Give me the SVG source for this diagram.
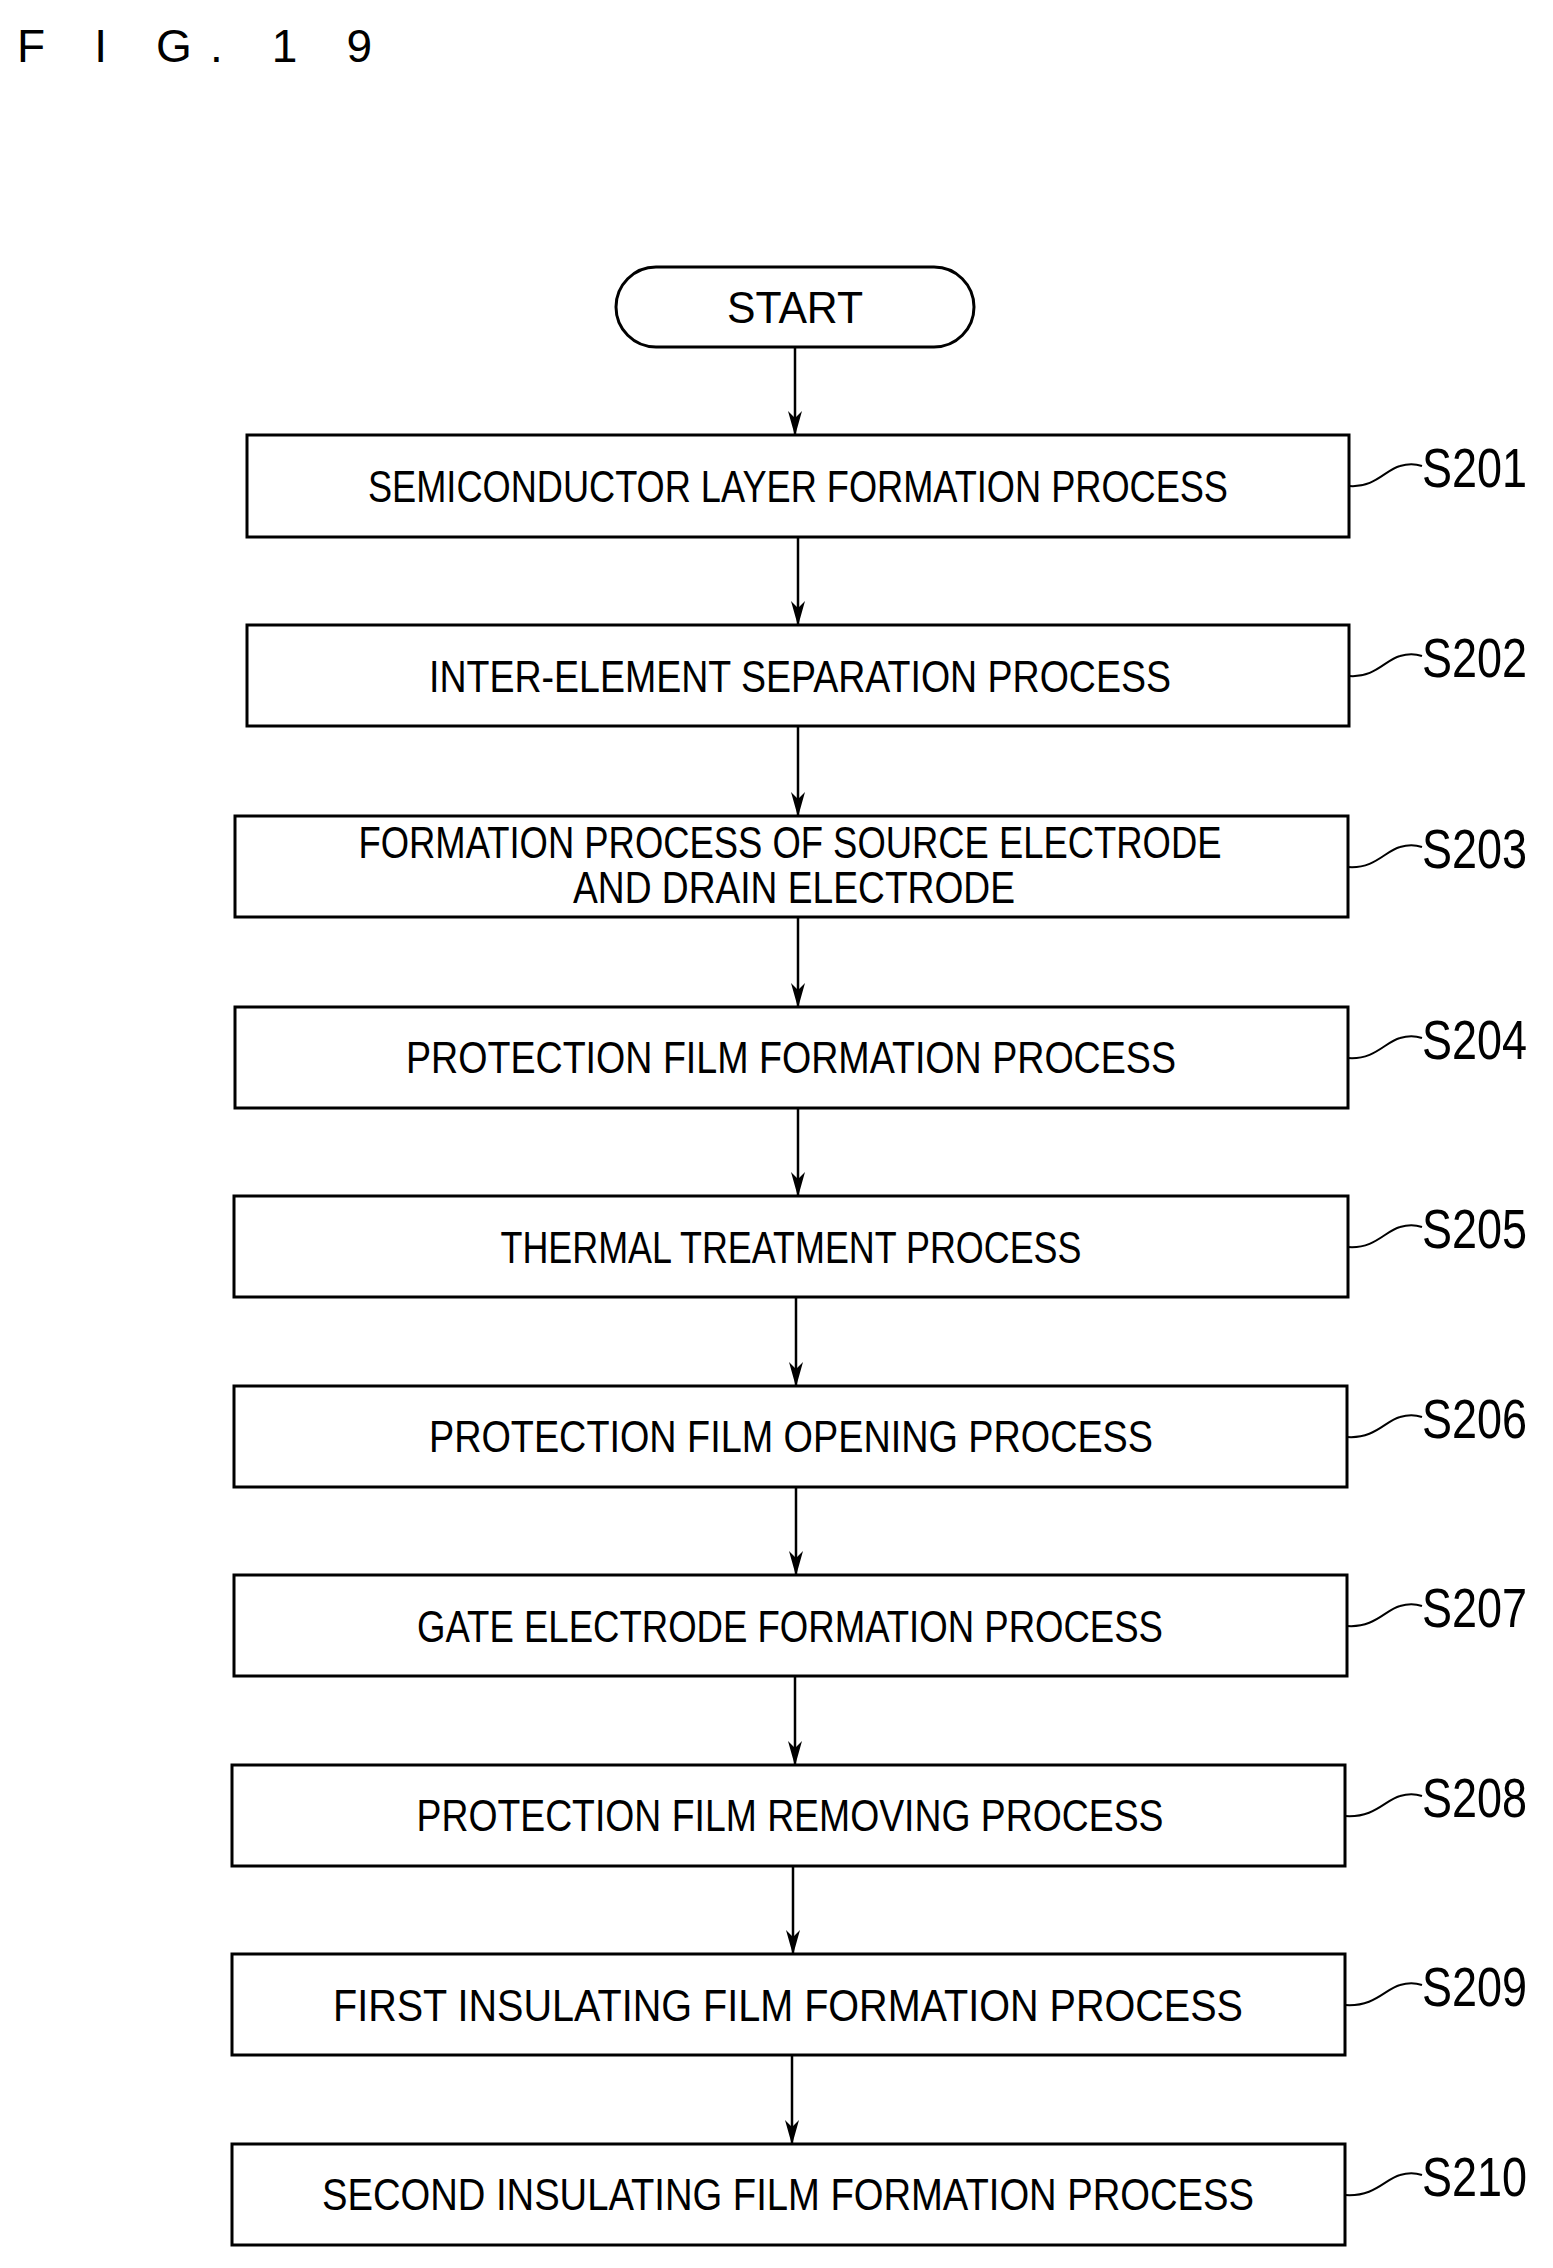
<svg xmlns="http://www.w3.org/2000/svg" width="1553" height="2268" viewBox="0 0 1553 2268">
<style>
.b{fill:#fff;stroke:#000;stroke-width:3}
.t{font-family:"Liberation Sans",sans-serif;font-size:44px;text-anchor:middle;fill:#000}
.l{font-family:"Liberation Sans",sans-serif;font-size:56px;fill:#000}
.c{stroke:#000;stroke-width:2.5;fill:none}
.s{stroke:#000;stroke-width:2;fill:none}
</style>
<defs><marker id="ar" markerWidth="26" markerHeight="14" refX="24" refY="7" orient="auto" markerUnits="userSpaceOnUse" viewBox="0 0 26 14"><path d="M0,0 L25,7 L0,14 L7,7 Z" fill="#000"/></marker></defs>
<text x="17" y="62" font-family="Liberation Sans,sans-serif" font-size="46" textLength="355" lengthAdjust="spacing">F I G. 1 9</text>
<g id="connectors">
<line class="c" x1="795" y1="347" x2="795" y2="435" marker-end="url(#ar)"/>
<line class="c" x1="798" y1="537" x2="798" y2="625" marker-end="url(#ar)"/>
<line class="c" x1="798" y1="726" x2="798" y2="816" marker-end="url(#ar)"/>
<line class="c" x1="798" y1="917" x2="798" y2="1007" marker-end="url(#ar)"/>
<line class="c" x1="798" y1="1108" x2="798" y2="1196" marker-end="url(#ar)"/>
<line class="c" x1="796" y1="1297" x2="796" y2="1386" marker-end="url(#ar)"/>
<line class="c" x1="796" y1="1487" x2="796" y2="1575" marker-end="url(#ar)"/>
<line class="c" x1="795" y1="1676" x2="795" y2="1765" marker-end="url(#ar)"/>
<line class="c" x1="793" y1="1866" x2="793" y2="1954" marker-end="url(#ar)"/>
<line class="c" x1="792" y1="2055" x2="792" y2="2144" marker-end="url(#ar)"/>
</g>
<g id="start"><rect class="b" x="616" y="267" width="358" height="80" rx="40"/><text class="t" x="795" y="323" textLength="136" lengthAdjust="spacingAndGlyphs" font-size="50">START</text></g>
<g id="s201"><rect class="b" x="247" y="435" width="1102" height="102"/><text class="t" x="798" y="502" textLength="860" lengthAdjust="spacingAndGlyphs">SEMICONDUCTOR LAYER FORMATION PROCESS</text><path class="s" d="M1349,486 C1375,488 1385,470 1400,466 C1410,463 1416,464 1422,466"/><text class="l" x="1422" y="487" textLength="105" lengthAdjust="spacingAndGlyphs">S201</text></g>
<g id="s202"><rect class="b" x="247" y="625" width="1102" height="101"/><text class="t" x="800" y="692" textLength="742" lengthAdjust="spacingAndGlyphs">INTER-ELEMENT SEPARATION PROCESS</text><path class="s" d="M1349,676 C1375,678 1385,660 1400,656 C1410,653 1416,654 1422,656"/><text class="l" x="1422" y="677" textLength="105" lengthAdjust="spacingAndGlyphs">S202</text></g>
<g id="s203"><rect class="b" x="235" y="816" width="1113" height="101"/><text class="t" x="790" y="858" font-size="38" textLength="863" lengthAdjust="spacingAndGlyphs">FORMATION PROCESS OF SOURCE ELECTRODE</text><text class="t" x="794" y="903" font-size="38" textLength="442" lengthAdjust="spacingAndGlyphs">AND DRAIN ELECTRODE</text><path class="s" d="M1348,867 C1375,869 1385,851 1400,847 C1410,844 1416,845 1422,847"/><text class="l" x="1422" y="868" textLength="105" lengthAdjust="spacingAndGlyphs">S203</text></g>
<g id="s204"><rect class="b" x="235" y="1007" width="1113" height="101"/><text class="t" x="791" y="1073" textLength="770" lengthAdjust="spacingAndGlyphs">PROTECTION FILM FORMATION PROCESS</text><path class="s" d="M1348,1058 C1375,1060 1385,1042 1400,1038 C1410,1035 1416,1036 1422,1038"/><text class="l" x="1422" y="1059" textLength="105" lengthAdjust="spacingAndGlyphs">S204</text></g>
<g id="s205"><rect class="b" x="234" y="1196" width="1114" height="101"/><text class="t" x="791" y="1263" textLength="581" lengthAdjust="spacingAndGlyphs">THERMAL TREATMENT PROCESS</text><path class="s" d="M1348,1247 C1375,1249 1385,1231 1400,1227 C1410,1224 1416,1225 1422,1227"/><text class="l" x="1422" y="1248" textLength="105" lengthAdjust="spacingAndGlyphs">S205</text></g>
<g id="s206"><rect class="b" x="234" y="1386" width="1113" height="101"/><text class="t" x="791" y="1452" textLength="724" lengthAdjust="spacingAndGlyphs">PROTECTION FILM OPENING PROCESS</text><path class="s" d="M1347,1437 C1375,1439 1385,1421 1400,1417 C1410,1414 1416,1415 1422,1417"/><text class="l" x="1422" y="1438" textLength="105" lengthAdjust="spacingAndGlyphs">S206</text></g>
<g id="s207"><rect class="b" x="234" y="1575" width="1113" height="101"/><text class="t" x="790" y="1642" textLength="746" lengthAdjust="spacingAndGlyphs">GATE ELECTRODE FORMATION PROCESS</text><path class="s" d="M1347,1626 C1375,1628 1385,1610 1400,1606 C1410,1603 1416,1604 1422,1606"/><text class="l" x="1422" y="1627" textLength="105" lengthAdjust="spacingAndGlyphs">S207</text></g>
<g id="s208"><rect class="b" x="232" y="1765" width="1113" height="101"/><text class="t" x="790" y="1831" textLength="747" lengthAdjust="spacingAndGlyphs">PROTECTION FILM REMOVING PROCESS</text><path class="s" d="M1345,1816 C1375,1818 1385,1800 1400,1796 C1410,1793 1416,1794 1422,1796"/><text class="l" x="1422" y="1817" textLength="105" lengthAdjust="spacingAndGlyphs">S208</text></g>
<g id="s209"><rect class="b" x="232" y="1954" width="1113" height="101"/><text class="t" x="788" y="2021" textLength="910" lengthAdjust="spacingAndGlyphs">FIRST INSULATING FILM FORMATION PROCESS</text><path class="s" d="M1345,2005 C1375,2007 1385,1989 1400,1985 C1410,1982 1416,1983 1422,1985"/><text class="l" x="1422" y="2006" textLength="105" lengthAdjust="spacingAndGlyphs">S209</text></g>
<g id="s210"><rect class="b" x="232" y="2144" width="1113" height="101"/><text class="t" x="788" y="2210" textLength="932" lengthAdjust="spacingAndGlyphs">SECOND INSULATING FILM FORMATION PROCESS</text><path class="s" d="M1345,2195 C1375,2197 1385,2179 1400,2175 C1410,2172 1416,2173 1422,2175"/><text class="l" x="1422" y="2196" textLength="105" lengthAdjust="spacingAndGlyphs">S210</text></g>
</svg>
